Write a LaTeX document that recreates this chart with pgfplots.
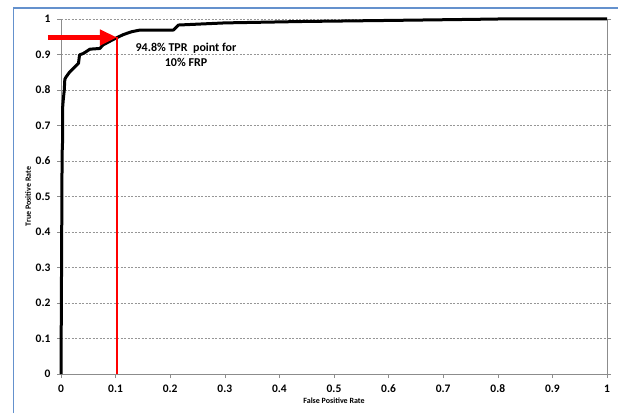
\documentclass[border=0pt]{standalone}
\usepackage{pgfplots}
\pgfplotsset{compat=1.18}
\usepackage{fontspec}
\setmainfont{Carlito}
\usetikzlibrary{arrows.meta}
\definecolor{framebl}{RGB}{100,145,205}
\definecolor{gridgr}{RGB}{150,150,150}
\definecolor{axgr}{RGB}{140,140,140}
\begin{document}
\begin{tikzpicture}
\useasboundingbox (0pt,0pt) rectangle (618pt,413pt);
\begin{axis}[
  at={(61pt,39pt)}, anchor=south west,
  scale only axis, width=546pt, height=355pt,
  xmin=0, xmax=1, ymin=0, ymax=1,
  xtick={0,0.1,...,1.0}, ytick={0,0.1,...,1.0},
  xticklabels={0,0.1,0.2,0.3,0.4,0.5,0.6,0.7,0.8,0.9,1},
  yticklabels={0,0.1,0.2,0.3,0.4,0.5,0.6,0.7,0.8,0.9,1},
  axis x line=bottom, axis y line=box,
  axis line style={-, axgr, line width=0.8pt},
  tick style={axgr, line width=0.6pt},
  tick align=outside, major tick length=4pt,
  ymajorgrids,
  grid style={gridgr, dashed, line width=0.5pt, dash pattern=on 2pt off 1.5pt},
  ticklabel style={font=\bfseries\fontsize{11.5}{13}\selectfont},
  /pgf/number format/assume math mode=true,
  yticklabel style={xshift=-3pt},
  xticklabel style={yshift=-3pt},
  xlabel={False Positive Rate}, ylabel={True Positive Rate},
  label style={font=\bfseries\fontsize{8}{9}\selectfont},
  xlabel style={yshift=2pt},
  ylabel style={yshift=-2pt},
  clip=false,
]
\addplot[black, line width=3pt, line join=round] coordinates {
(0,0) (0.001,0.3) (0.002,0.62) (0.003,0.66) (0.003,0.75) (0.004,0.77)
(0.006,0.80) (0.007,0.83) (0.009,0.836) (0.016,0.851) (0.026,0.866)
(0.032,0.875) (0.034,0.899) (0.041,0.903) (0.053,0.915) (0.071,0.917)
(0.077,0.927) (0.099,0.945) (0.114,0.956) (0.129,0.964) (0.145,0.969)
(0.206,0.969) (0.215,0.983) (0.3,0.989) (0.443,0.993) (0.603,0.996)
(0.755,0.999) (0.8,1.0) (1.0,1.0)
};
\addplot[red, line width=1.5pt] coordinates {(0.1025,0) (0.1025,0.948)};
\addplot[red, line width=5pt, -{Triangle[width=15pt,length=17pt]}] coordinates {(-0.024,0.948) (0.1025,0.948)};
\node[align=center, font=\bfseries\fontsize{12}{15}\selectfont, anchor=center] at (axis cs:0.229,0.9) {94.8\% TPR\ \ point for\\10\% FRP};
\end{axis}
\draw[framebl, line width=1.2pt] (13.5pt,0pt) -- (13.5pt,405pt) -- (618pt,405pt);
\end{tikzpicture}
\end{document}
